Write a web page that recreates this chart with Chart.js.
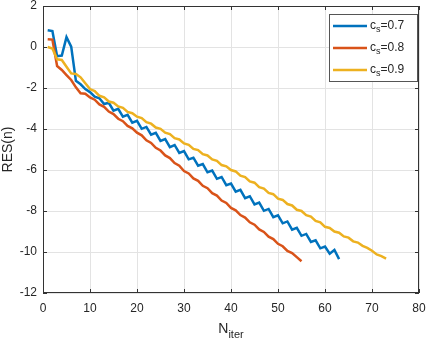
<!DOCTYPE html>
<html lang="en">
<head>
    <meta charset="UTF-8">
    <title>RES(n) vs N_iter</title>
    <script src="https://cdn.jsdelivr.net/npm/chart.js"></script>
    <style>
        body { margin: 0; background: white; }
        .chart-container { width: 427px; height: 340px; position: relative; }
    </style>
</head>
<body>
    <div class="chart-container">
        <canvas id="resChart"></canvas>
    </div>

    <script>
        // residual history for each c_s (one value per iteration, starting at 1)
        const csLabels = ['0.7', '0.8', '0.9'];

        const resCs07 = [0.82, 0.78, -0.45, -0.42, 0.48, 0.02, -1.65, -1.82, -2.05, -2.2,
            -2.42, -2.5, -2.78, -2.72, -3.11, -3.02, -3.40, -3.31, -3.69, -3.60,
            -3.99, -3.90, -4.28, -4.19, -4.58, -4.49, -4.88, -4.78, -5.17, -5.08,
            -5.48, -5.40, -5.79, -5.71, -6.11, -6.03, -6.43, -6.34, -6.74, -6.66,
            -7.06, -6.97, -7.37, -7.28, -7.68, -7.59, -7.99, -7.90, -8.30, -8.21,
            -8.60, -8.51, -8.91, -8.82, -9.21, -9.12, -9.51, -9.43, -9.82, -9.73,
            -10.08, -9.90, -10.35];

        const resCs08 = [0.38, 0.36, -0.93, -1.12, -1.37, -1.61, -1.97, -2.26, -2.28, -2.46,
            -2.57, -2.80, -2.92, -3.15, -3.27, -3.50, -3.62, -3.85, -3.97, -4.18,
            -4.31, -4.55, -4.68, -4.92, -5.05, -5.29, -5.42, -5.66, -5.79, -6.05,
            -6.17, -6.41, -6.53, -6.77, -6.89, -7.13, -7.25, -7.49, -7.61, -7.85,
            -7.97, -8.20, -8.32, -8.55, -8.67, -8.90, -9.02, -9.25, -9.37, -9.60,
            -9.72, -9.95, -10.05, -10.25, -10.45];

        const resCs09 = [0, -0.07, -0.6, -0.63, -0.96, -1.29, -1.32, -1.48, -1.77, -2.05,
            -2.15, -2.38, -2.46, -2.66, -2.72, -2.90, -2.97, -3.17, -3.23, -3.40,
            -3.47, -3.67, -3.74, -3.93, -3.99, -4.18, -4.25, -4.45, -4.51, -4.70,
            -4.77, -4.97, -5.03, -5.23, -5.29, -5.48, -5.55, -5.76, -5.82, -6.00,
            -6.07, -6.28, -6.35, -6.56, -6.62, -6.84, -6.91, -7.12, -7.18, -7.40,
            -7.46, -7.66, -7.73, -7.94, -8.00, -8.20, -8.27, -8.48, -8.55, -8.77,
            -8.83, -9.00, -9.06, -9.24, -9.30, -9.48, -9.54, -9.70, -9.80, -9.94,
            -10.12, -10.20, -10.32];

        const xTicks = [0, 10, 20, 30, 40, 50, 60, 70, 80];
        const yTicks = [-12, -10, -8, -6, -4, -2, 0, 2];

        const colors = ['#0072BD', '#D95319', '#EDB120'];
        const textColor = '#262626';
        const fontFamily = '"Liberation Sans", Arial, Helvetica, sans-serif';

        // iteration number = position in list + 1
        function toPoints(values) {
            return values.map((v, i) => ({ x: i + 1, y: v }));
        }

        // box, inward ticks, titles and legend drawn MATLAB style
        const matlabLook = {
            id: 'matlabLook',
            afterDraw(chart) {
                const ctx = chart.ctx;
                const a = chart.chartArea;
                const xs = chart.scales.x;
                const ys = chart.scales.y;
                ctx.save();

                // axes box
                ctx.strokeStyle = '#333333';
                ctx.lineWidth = 1;
                ctx.strokeRect(a.left + 0.5, a.top + 0.5, a.right - a.left - 1, a.bottom - a.top - 1);

                // ticks pointing inside, on all four sides
                ctx.beginPath();
                xTicks.forEach(v => {
                    const px = Math.round(xs.getPixelForValue(v)) + 0.5;
                    ctx.moveTo(px, a.bottom); ctx.lineTo(px, a.bottom - 4);
                    ctx.moveTo(px, a.top); ctx.lineTo(px, a.top + 4);
                });
                yTicks.forEach(v => {
                    const py = Math.round(ys.getPixelForValue(v)) + 0.5;
                    ctx.moveTo(a.left, py); ctx.lineTo(a.left + 4, py);
                    ctx.moveTo(a.right, py); ctx.lineTo(a.right - 4, py);
                });
                ctx.stroke();

                ctx.fillStyle = textColor;

                // y title
                ctx.save();
                ctx.translate(8, (a.top + a.bottom) / 2);
                ctx.rotate(-Math.PI / 2);
                ctx.font = '14px ' + fontFamily;
                ctx.textAlign = 'center';
                ctx.textBaseline = 'middle';
                ctx.fillText('RES(n)', 0, 0);
                ctx.restore();

                // x title with subscript
                ctx.textAlign = 'left';
                ctx.textBaseline = 'alphabetic';
                ctx.font = '14px ' + fontFamily;
                const wN = ctx.measureText('N').width;
                ctx.font = '11px ' + fontFamily;
                const wIter = ctx.measureText('iter').width;
                const tx = (a.left + a.right) / 2 - (wN + wIter) / 2;
                ctx.font = '14px ' + fontFamily;
                ctx.fillText('N', tx, a.bottom + 40);
                ctx.font = '11px ' + fontFamily;
                ctx.fillText('iter', tx + wN, a.bottom + 45);

                // legend
                const lx = a.right - 90;
                const ly = a.top + 8;
                ctx.fillStyle = 'white';
                ctx.fillRect(lx, ly, 88, 68);
                ctx.strokeStyle = '#555555';
                ctx.strokeRect(lx + 0.5, ly + 0.5, 88, 67);
                chart.data.datasets.forEach((ds, i) => {
                    const rowY = ly + 12 + i * 22;
                    ctx.strokeStyle = ds.borderColor;
                    ctx.lineWidth = 2.5;
                    ctx.beginPath();
                    ctx.moveTo(lx + 4, rowY);
                    ctx.lineTo(lx + 38, rowY);
                    ctx.stroke();

                    ctx.fillStyle = textColor;
                    ctx.textBaseline = 'middle';
                    let x = lx + 41;
                    ctx.font = '12px ' + fontFamily;
                    ctx.fillText('c', x, rowY);
                    x += ctx.measureText('c').width;
                    ctx.font = '9px ' + fontFamily;
                    ctx.fillText('s', x, rowY + 4);
                    x += ctx.measureText('s').width;
                    ctx.font = '12px ' + fontFamily;
                    ctx.fillText('=' + csLabels[i], x, rowY);
                });

                ctx.restore();
            }
        };

        const ctx = document.getElementById('resChart').getContext('2d');
        new Chart(ctx, {
            type: 'line',
            data: {
                datasets: [
                    { label: 'c_s=' + csLabels[0], data: toPoints(resCs07), borderColor: colors[0], order: 2 },
                    { label: 'c_s=' + csLabels[1], data: toPoints(resCs08), borderColor: colors[1], order: 1 },
                    { label: 'c_s=' + csLabels[2], data: toPoints(resCs09), borderColor: colors[2], order: 0 }
                ]
            },
            options: {
                responsive: true,
                maintainAspectRatio: false,
                animation: false,
                layout: { padding: { top: 6, right: 8, left: 0, bottom: 0 } },
                elements: {
                    point: { radius: 0 },
                    line: { borderWidth: 2.5, tension: 0, fill: false }
                },
                plugins: {
                    legend: { display: false },
                    tooltip: { enabled: false }
                },
                scales: {
                    x: {
                        type: 'linear',
                        min: 0,
                        max: 80,
                        afterBuildTicks: scale => { scale.ticks = xTicks.map(v => ({ value: v })); },
                        // fixed height, no extra room for the end labels
                        afterFit: scale => {
                            scale.height = 47;
                            scale.paddingLeft = 0;
                            scale.paddingRight = 0;
                        },
                        ticks: { padding: 8, color: textColor, maxRotation: 0, font: { family: fontFamily, size: 12 } },
                        grid: { color: '#e3e3e3', drawTicks: false },
                        border: { display: false }
                    },
                    y: {
                        min: -12,
                        max: 2,
                        afterBuildTicks: scale => { scale.ticks = yTicks.map(v => ({ value: v })); },
                        afterFit: scale => {
                            scale.width = 43;
                            scale.paddingTop = 0;
                            scale.paddingBottom = 0;
                        },
                        ticks: { padding: 6, color: textColor, font: { family: fontFamily, size: 12 } },
                        grid: { color: '#e3e3e3', drawTicks: false },
                        border: { display: false }
                    }
                }
            },
            plugins: [matlabLook]
        });
    </script>
</body>
</html>
